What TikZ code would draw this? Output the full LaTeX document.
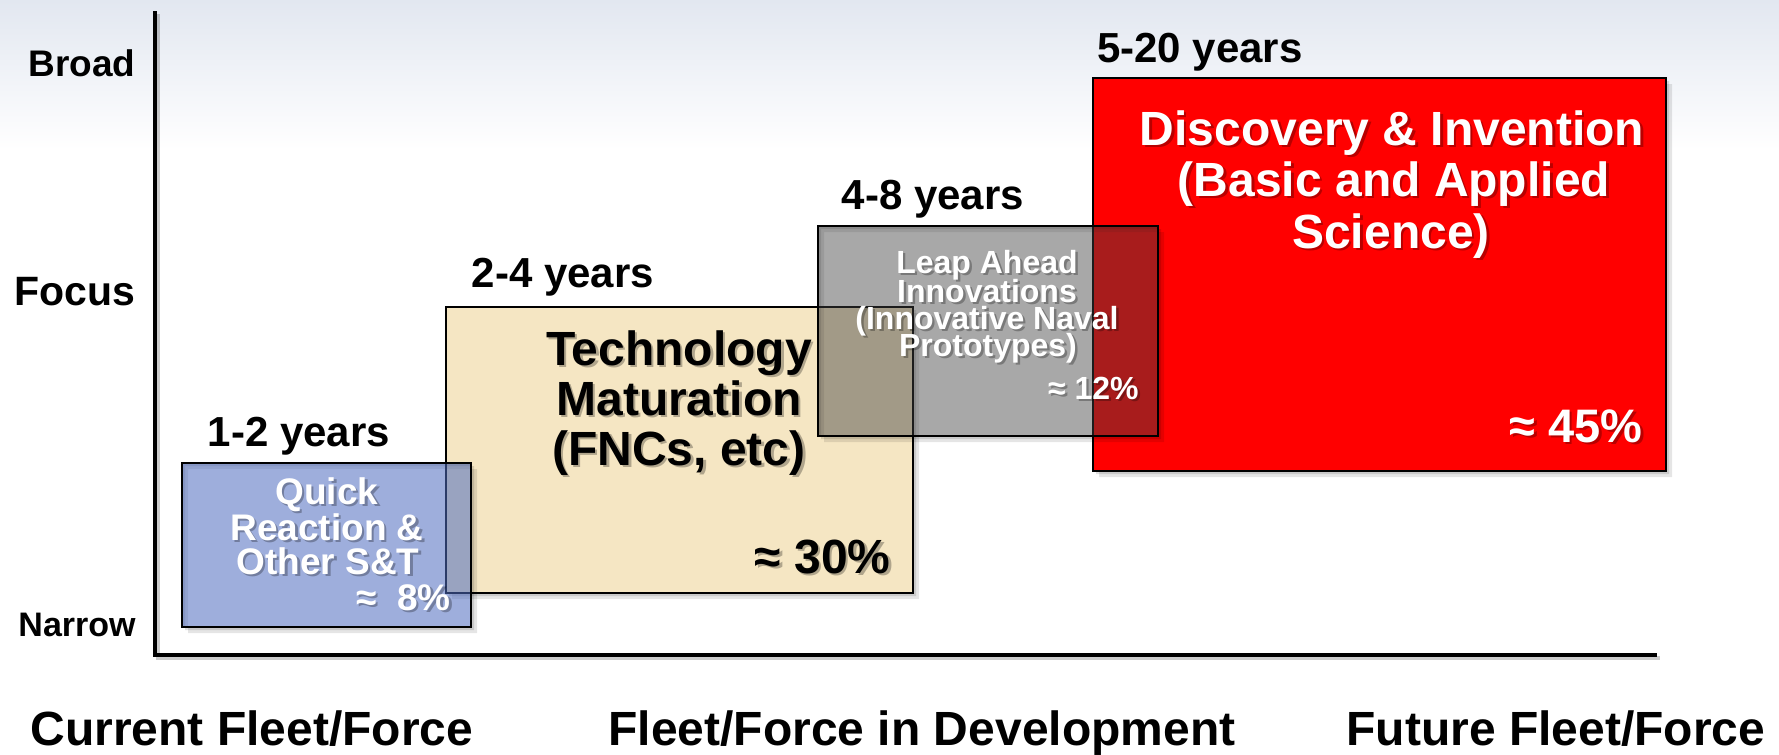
\documentclass[tikz,border=0pt]{standalone}
\usepackage{fontspec}
\setmainfont{Liberation Sans}
\definecolor{tanfill}{RGB}{245,230,195}
\definecolor{bluefill}{RGB}{79,108,191}
\definecolor{grayfill}{RGB}{63,63,63}
\definecolor{bgtop}{RGB}{226,231,240}
\newcommand\shadowtext[4]{%
  \node[#2,text=black,text opacity=0.28,xshift=1.2pt,yshift=-1.2pt] at (#3) {#4};
  \node[#2] (#1) at (#3) {#4};}
\newcommand\boxshade[4]{%
  \fill[black,opacity=0.12,even odd rule] (#1+3,#2+3) rectangle (#3+3,#4+3) (#1,#2) rectangle (#3,#4);
  \fill[black,opacity=0.10,even odd rule] (#1+6,#2+6) rectangle (#3+6,#4+6) (#1,#2) rectangle (#3,#4);}
\begin{document}
\begin{tikzpicture}[x=0.5pt,y=-0.5pt,
  txt/.style={font=\bfseries\fontsize{#1}{#1}\selectfont, inner sep=0pt},
  box/.style={draw=black, line width=0.8pt, inner sep=0pt, outer sep=0pt, anchor=north west},
]
\useasboundingbox (0,0) rectangle (1779,755);
\shade[top color=bgtop, bottom color=white] (0,0) rectangle (1779,150);

% axes
\coordinate (ytop) at (155,11);
\coordinate (origin) at (155,655);
\coordinate (xend) at (1657,655);
\draw[line width=2.3pt, black, opacity=0.2] ([shift={(3,3)}]ytop) -- ([shift={(3,3)}]origin) -- ([shift={(3,3)}]xend);
\draw[line width=2.3pt] (ytop) -- (origin) -- (xend);

% axis labels
\node[txt=18.5, anchor=base east] (broad) at (136,76) {Broad};
\node[txt=20.5, anchor=base east] (focus) at (136,305) {Focus};
\node[txt=17, anchor=base east] (narrow) at (136,636) {Narrow};

\node[txt=24, anchor=base] (cur) at (252,745) {Current Fleet/Force};
\node[txt=24, anchor=base] (dev) at (922,745) {Fleet/Force in Development};
\node[txt=24, anchor=base] (fut) at (1556,745) {Future Fleet/Force};

% year labels
\node[txt=21, anchor=base] (y12) at (299,446) {1-2 years};
\node[txt=21, anchor=base] (y24) at (563,287) {2-4 years};
\node[txt=21, anchor=base] (y48) at (933,209) {4-8 years};
\node[txt=21, anchor=base] (y520) at (1200,62) {5-20 years};

% Technology maturation (tan)
\boxshade{446}{307}{913}{593}
\node[box, fill=tanfill, minimum width=233.5pt, minimum height=143pt] (tm) at (446,307) {};
\shadowtext{tm1}{txt=24, anchor=base}{679,365}{Technology}
\shadowtext{tm2}{txt=24, anchor=base}{679,415}{Maturation}
\shadowtext{tm3}{txt=24, anchor=base}{679,465}{(FNCs, etc)}
\shadowtext{tm4}{txt=24, anchor=base east}{891,573}{≈ 30\%}

% Quick reaction (blue)
\boxshade{182}{463}{471}{627}
\node[box, fill=bluefill, fill opacity=0.55, minimum width=144.5pt, minimum height=82pt] (qr) at (182,463) {};
\shadowtext{qr1}{txt=18.5, anchor=base, text=white}{327,504}{Quick}
\shadowtext{qr2}{txt=18.5, anchor=base, text=white}{327,540}{Reaction \&}
\shadowtext{qr3}{txt=18.5, anchor=base, text=white}{328,574}{Other S\&T}
\shadowtext{qr4}{txt=18.5, anchor=base east, text=white}{451,610}{≈\hspace{0.55em}8\%}

% Discovery & invention (red)
\boxshade{1093}{78}{1666}{471}
\node[box, fill=red, minimum width=286.5pt, minimum height=196.5pt] (di) at (1093,78) {};
\shadowtext{di1}{txt=24, anchor=base, text=white}{1392,145}{Discovery \& Invention}
\shadowtext{di2}{txt=24, anchor=base, text=white}{1394,196}{(Basic and Applied}
\shadowtext{di3}{txt=24, anchor=base, text=white}{1391,248}{Science)}
\shadowtext{di4}{txt=23.5, anchor=base east, text=white}{1643,442}{≈ 45\%}

% Leap ahead (gray)
\boxshade{818}{226}{1158}{436}
\node[box, fill=grayfill, fill opacity=0.45, minimum width=170pt, minimum height=105pt] (la) at (818,226) {};
\shadowtext{la1}{txt=16, anchor=base, text=white}{987,273}{Leap Ahead}
\shadowtext{la2}{txt=16, anchor=base, text=white}{987,302}{Innovations}
\shadowtext{la3}{txt=16, anchor=base, text=white}{987,329}{(Innovative Naval}
\shadowtext{la4}{txt=16, anchor=base, text=white}{988,356}{Prototypes)}
\shadowtext{la5}{txt=16, anchor=base east, text=white}{1139,399}{≈ 12\%}
\end{tikzpicture}
\end{document}
